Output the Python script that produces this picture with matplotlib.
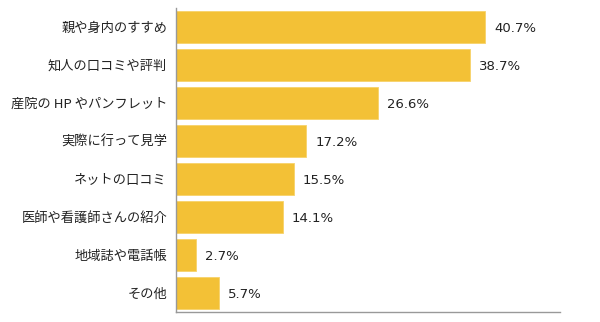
import matplotlib
matplotlib.use("Agg")
import matplotlib.pyplot as plt

plt.rcParams["font.family"] = ["Noto Sans CJK JP", "DejaVu Sans"]

categories = [
    "親や身内のすすめ",
    "知人の口コミや評判",
    "産院の HP やパンフレット",
    "実際に行って見学",
    "ネットの口コミ",
    "医師や看護師さんの紹介",
    "地域誌や電話帳",
    "その他",
]
values = [40.7, 38.7, 26.6, 17.2, 15.5, 14.1, 2.7, 5.7]

BAR_COLOR = "#F3C136"
AXIS_COLOR = "#999999"

fig = plt.figure(figsize=(6.0, 3.22), dpi=100)
ax = fig.add_axes([175.5 / 600, 10 / 322, (560 - 175.5) / 600, 304 / 322])

pos = list(range(len(categories)))
ax.barh(pos, values, height=0.86, color=BAR_COLOR, edgecolor="#F7D36A", linewidth=0.6)

# value labels just past the bar ends
for y, v in zip(pos, values):
    ax.text(v + 1.2, y + 0.03, f"{v}%", va="center", ha="left", fontsize=9.5,
            color="#222222", family=["DejaVu Sans"])

ax.set_ylim(len(categories) - 0.5, -0.5)
ax.set_xlim(0, 50.5)
ax.set_yticks(pos)
ax.set_yticklabels(categories, fontsize=9.5, color="#222222")
ax.set_xticks([])
ax.tick_params(axis="y", length=0, pad=6)

for side in ("top", "right"):
    ax.spines[side].set_visible(False)
for side in ("left", "bottom"):
    ax.spines[side].set_color(AXIS_COLOR)
    ax.spines[side].set_linewidth(1.0)

fig.savefig("out.png", dpi=100)
